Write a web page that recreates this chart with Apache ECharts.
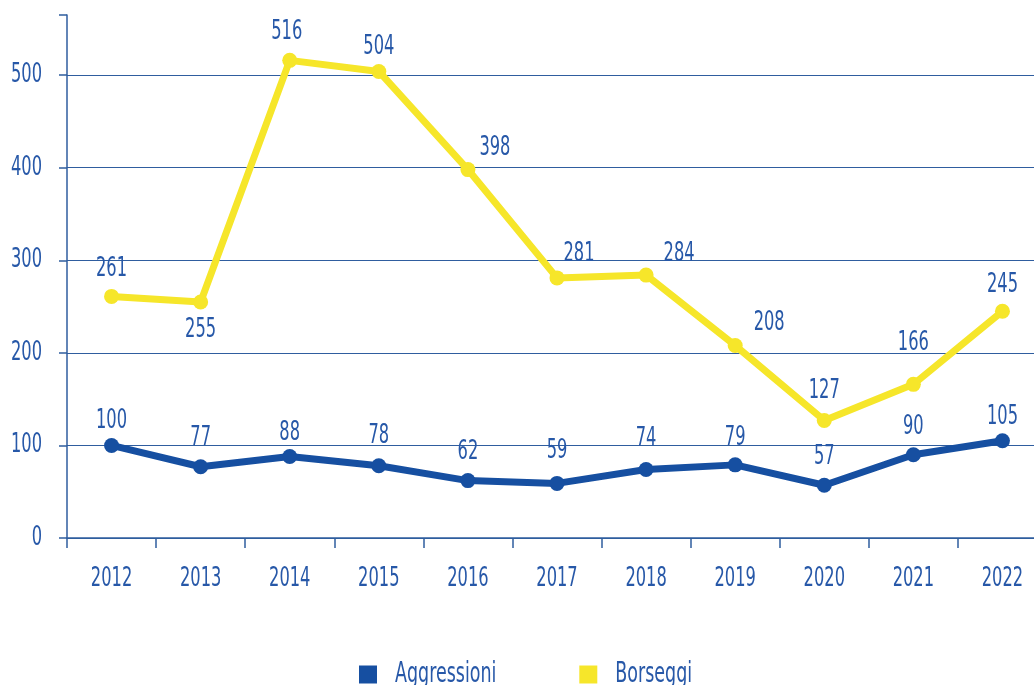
<!DOCTYPE html>
<html>
<head>
<meta charset="utf-8">
<script src="https://cdn.jsdelivr.net/npm/echarts@6/dist/echarts.min.js"></script>
<style>
  html, body { margin: 0; padding: 0; background: #ffffff; }
  #chart { width: 1034px; height: 685px; }
</style>
</head>
<body>
<div id="chart"></div>
<script>
// Years on the category axis
const years = ['2012', '2013', '2014', '2015', '2016', '2017', '2018', '2019', '2020', '2021', '2022'];

// Yearly counts per series
const aggressioni = [100, 77, 88, 78, 62, 59, 74, 79, 57, 90, 105];
const borseggi = [261, 255, 516, 504, 398, 281, 284, 208, 127, 166, 245];

// Value-axis ticks
const yTicks = [0, 100, 200, 300, 400, 500];

// Label placement (text centre relative to the point), px
const aggrLabelShift = [[0, -24], [0, -29], [0, -24], [0, -30], [0, -29], [0, -32], [0, -31], [0, -27], [0, -28], [0, -28], [0, -24]];
const borsLabelShift = [[0, -27], [0, 28], [-3, -28], [0, -24], [27, -22], [22, -24], [33, -21], [34, -22], [0, -29], [0, -41], [0, -26]];

const FONT = "'DejaVu Sans Condensed', 'DejaVu Sans', sans-serif";
const FONT_SIZE = 27;
const TEXT_SQUEEZE = 0.67;   // horizontal squeeze for a tall, narrow type look
const TEXT_BLUE = '#2758a8';
const AXIS_BLUE = '#2f5d9f';
const LINE_BLUE = '#164fa1';
const YELLOW = '#f6e62a';

function withLabels(values, shifts) {
  return values.map((v, i) => ({
    value: v,
    label: { offset: shifts[i] }
  }));
}

const chart = echarts.init(document.getElementById('chart'), null, { renderer: 'canvas' });

const labelStyle = {
  show: true,
  position: 'inside',
  color: TEXT_BLUE,
  fontFamily: FONT,
  fontSize: FONT_SIZE
};

chart.setOption({
  animation: false,
  backgroundColor: '#ffffff',
  grid: { left: 67, width: 980, top: 15, height: 523, containLabel: false, outerBoundsMode: 'none' },
  legend: {
    left: 354,
    top: 655,
    itemWidth: 18,
    itemHeight: 18,
    itemGap: 33,
    icon: 'rect',
    textStyle: { color: TEXT_BLUE, fontFamily: FONT, fontSize: 29, padding: [0, 0, 0, 13] },
    data: ['Aggressioni', 'Borseggi']
  },
  xAxis: {
    type: 'category',
    data: years,
    boundaryGap: true,
    axisLine: { lineStyle: { color: AXIS_BLUE, width: 1.5 } },
    axisTick: { show: true, length: 10, lineStyle: { color: AXIS_BLUE, width: 1.5 } },
    axisLabel: { color: TEXT_BLUE, fontFamily: FONT, fontSize: FONT_SIZE, margin: 27 },
    splitLine: { show: false }
  },
  yAxis: {
    type: 'value',
    min: 0,
    max: 565,
    interval: 100,
    axisLine: { show: true, lineStyle: { color: AXIS_BLUE, width: 1.5 } },
    axisTick: { show: true, inside: false, length: 8, lineStyle: { color: AXIS_BLUE, width: 1.5 } },
    axisLabel: {
      color: TEXT_BLUE, fontFamily: FONT, fontSize: FONT_SIZE, margin: 25,
      formatter: v => (yTicks.indexOf(v) >= 0 ? String(v) : '')
    },
    splitLine: {
      show: true,
      lineStyle: {
        width: 1,
        color: [AXIS_BLUE, AXIS_BLUE, AXIS_BLUE, AXIS_BLUE, AXIS_BLUE, AXIS_BLUE, 'rgba(0,0,0,0)']
      }
    }
  },
  series: [
    {
      name: 'Aggressioni',
      type: 'line',
      data: withLabels(aggressioni, aggrLabelShift),
      symbol: 'circle',
      symbolSize: 15,
      itemStyle: { color: LINE_BLUE },
      lineStyle: { color: LINE_BLUE, width: 7 },
      label: labelStyle,
      z: 3
    },
    {
      name: 'Borseggi',
      type: 'line',
      data: withLabels(borseggi, borsLabelShift),
      symbol: 'circle',
      symbolSize: 15,
      itemStyle: { color: YELLOW },
      lineStyle: { color: YELLOW, width: 7 },
      label: labelStyle,
      z: 3
    }
  ]
});

// Narrow every drawn text span around its own anchor point
(function condenseText(k) {
  const zr = chart.getZr();
  zr.storage.getDisplayList(true).forEach(el => {
    if (el.type !== 'tspan') return;
    const st = el.style || {};
    el.originX = st.x || 0;
    el.originY = st.y || 0;
    el.scaleX = k;
    el.markRedraw();
  });
  zr.refreshImmediately();
})(TEXT_SQUEEZE);
</script>
</body>
</html>
